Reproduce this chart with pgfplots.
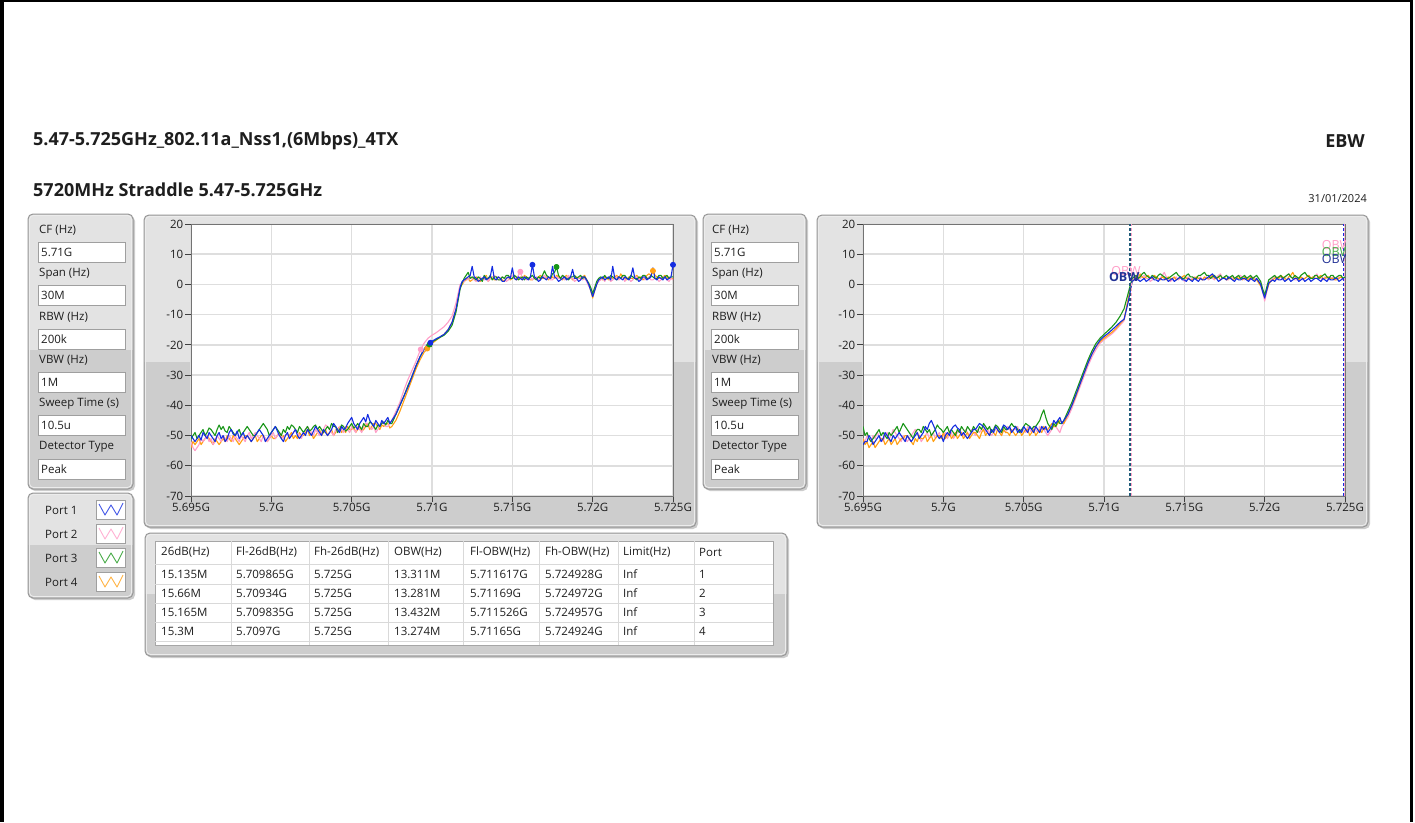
\documentclass[border=0pt]{standalone}
\usepackage{fontspec}
\setmainfont{Open Sans}
\usepackage{pgfplots}
\pgfplotsset{compat=1.18}
\usepackage{pgfplotstable}

\definecolor{pblue}{RGB}{20,45,225}
\definecolor{ppink}{RGB}{255,158,200}
\definecolor{pgreen}{RGB}{25,150,25}
\definecolor{porange}{RGB}{255,160,20}
\definecolor{pnavy}{RGB}{35,50,150}
\definecolor{pteal}{RGB}{30,90,120}
\definecolor{panlight}{RGB}{227,227,227}
\definecolor{pandark}{RGB}{205,205,205}
\definecolor{panedge}{RGB}{150,150,150}
\definecolor{gridc}{RGB}{222,222,222}
\definecolor{txt}{RGB}{30,30,30}

\newcommand\sm{\fontsize{11.5}{13}\selectfont}

% x = MHz above 5.695 GHz ; a = Port 1, b = Port 2, c = Port 3, d = Port 4
\pgfplotstableread{
x a b c d
0.000 -50 -52 -51 -54
0.125 -51 -54 -50 -52
0.250 -52 -55 -49 -53
0.375 -51 -54 -51 -52
0.500 -50 -53 -50 -51
0.625 -51.5 -51 -49 -53
0.750 -49 -52 -48 -52
0.875 -50 -51 -50 -51
1.000 -51 -50 -49 -50
1.125 -49 -52 -47.5 -51
1.250 -50 -51 -48 -52
1.375 -51 -53 -49 -53
1.500 -52 -52 -50 -51
1.625 -50 -50 -48 -52
1.750 -49 -51 -46.5 -53
1.875 -51 -52 -48 -52
2.000 -50 -50 -47 -51
2.125 -52 -51 -48.5 -52
2.250 -51 -52 -49 -50
2.375 -49 -50 -47 -51
2.500 -48 -51 -48 -52
2.625 -49.5 -52 -49 -50
2.750 -50 -50 -50 -51
2.875 -48.5 -51 -49 -52
3.000 -51 -52 -48 -53
3.125 -50 -50 -50 -52
3.250 -49 -51 -49 -51
3.375 -51 -52 -48 -50
3.500 -50 -50 -47 -50
3.625 -51 -49 -48 -51
3.750 -52 -51 -49 -52
3.875 -51 -50 -50 -51
4.000 -50 -49 -50 -50
4.125 -49 -50 -49 -52
4.250 -48 -51 -48 -51
4.375 -49 -52 -47 -50
4.500 -50 -50 -46 -50
4.625 -52 -51 -47 -51
4.750 -51 -52 -48 -52
4.875 -50 -51 -50 -51
5.000 -49 -50 -49 -50
5.125 -48 -49 -48 -51
5.250 -47 -51 -47 -51
5.375 -48.5 -50 -48 -50
5.500 -50 -49 -49 -49
5.625 -51 -50 -50 -51
5.750 -52 -51 -48 -50
5.875 -50 -50 -49 -52
6.000 -49 -49 -47 -51
6.125 -51 -51 -48 -50
6.250 -50 -50 -46.5 -49
6.375 -49 -49 -47 -51
6.500 -48 -48 -48 -50
6.625 -50 -49 -49 -51
6.750 -51 -50 -47 -49
6.875 -50 -51 -48 -50
7.000 -49 -49 -49 -50
7.125 -50 -48 -48 -49
7.250 -48 -47 -47 -48
7.375 -49 -48 -48.5 -50
7.500 -50 -49 -48 -49
7.625 -48.5 -50 -47 -51
7.750 -47 -48 -46.5 -50
7.875 -48 -49 -48 -49
8.000 -49 -50 -47 -48
8.125 -50 -49 -48 -50
8.250 -48 -48 -49 -49
8.375 -49 -46.5 -48 -48
8.500 -50 -47 -47 -50
8.625 -49 -48 -48 -49
8.750 -48 -49 -46 -48
8.875 -46 -50 -47 -50
9.000 -47 -48 -47 -49
9.125 -48 -49 -49 -48
9.250 -49 -47 -48 -47
9.375 -47 -48 -46.5 -49
9.500 -48 -49 -47 -48
9.625 -47.5 -47 -48.5 -49
9.750 -46 -48 -48 -47
9.875 -45 -49 -47 -48
10.000 -44 -47 -46 -48
10.125 -46 -48 -47.5 -47
10.250 -47 -49 -47 -49
10.375 -48 -47 -46 -48
10.500 -46 -48 -47 -47
10.625 -45 -49 -48 -48.5
10.750 -44 -47 -46 -48
10.875 -45.5 -46 -47 -47
11.000 -43 -46 -47 -46
11.125 -45 -47 -45.5 -48
11.250 -46 -48 -46 -47
11.375 -47 -47 -47 -46
11.500 -45 -49 -48 -46
11.625 -46 -48 -46.5 -47
11.750 -47 -47 -47 -48
11.875 -45 -46 -46 -46.5
12.000 -46 -46 -45.5 -47
12.125 -45 -47 -46.5 -46
12.250 -44 -47 -45 -46
12.375 -46 -46 -46 -47.5
12.500 -45 -45 -46 -47
12.750 -43 -42 -43 -45
13.000 -40 -39 -40 -42
13.250 -37 -35 -37 -38.5
13.500 -34 -31.5 -33.5 -35
13.750 -30.5 -28.5 -30.5 -31.5
14.000 -27 -25.5 -27 -28
14.250 -24 -22 -24 -25
14.500 -21.5 -19.5 -21.5 -22.5
14.750 -19.5 -17.8 -19.8 -21
15.000 -18.8 -16.8 -19 -19.5
15.250 -18 -16 -18.3 -18.5
15.500 -17.3 -15 -17.5 -17.5
15.750 -16.5 -14 -16.8 -16.5
16.000 -15 -12.5 -15.5 -15
16.250 -12.5 -10.5 -13.5 -12.5
16.500 -8 -6 -9 -8
16.750 -1 0 -1.5 -1
16.875 1 0.5 0.5 0
17.000 1.5 1 2 1
17.125 2 2 3 1.5
17.250 2.5 1.5 4 2
17.375 3 2.5 2 1
17.500 6 2 2.5 1.5
17.625 2.5 1.5 2 2
17.750 2 1 1.5 2.5
17.875 1 2 2.5 1.5
18.000 1.5 2.5 2 1
18.125 2 1.5 1 2
18.250 2.5 1.5 3 2
18.375 1.5 2.5 2 3
18.500 2 1 2 1
18.625 2.5 2 3 2
18.750 6 2 1.5 2.5
18.875 2 3 2.5 1.5
19.000 1.5 2.5 2.5 1.5
19.125 2.5 1.5 1.5 2.5
19.250 2 1.5 1.5 2
19.375 1 2.5 2.5 1.5
19.500 1 2 2 1
19.625 2 1 3 2
19.750 2.5 1.5 3 2.5
19.875 2 2.5 2 1.5
20.000 5.5 3 2 2
20.125 2 2 3 2.5
20.250 1.5 2 2.5 1.5
20.375 2.5 3 1.5 2
20.500 2 4.2 2 2.5
20.625 1.5 2 2.5 1.5
20.750 2.5 2.5 1.5 3
20.875 2 1.5 2.5 2.5
21.000 1.5 2 2 2
21.125 2.5 2.5 2.5 1.5
21.250 6.5 1.5 3 1.5
21.375 2.5 2 2 2.5
21.500 2 2.5 1.5 2
21.625 1 1.5 2.5 2.5
21.750 1.5 2 2 3
21.875 2.5 2.5 3 2
22.000 2 3 4.5 2
22.125 1.5 2 3 2.5
22.250 2.5 2 2.5 1.5
22.375 2 1.5 2 2
22.500 6 1.5 3.5 2.5
22.625 2.5 2.5 4 2
22.750 2 2.5 5.8 3
22.875 1 2 3 2.5
23.000 1.5 2 2 2
23.125 2 3 3 1.5
23.250 2.5 1.5 2.5 2.5
23.375 1.5 2 2 3
23.500 2 3 1.5 2
23.625 2.5 2 2.5 2.5
23.750 5 2 2.5 1.5
23.875 2 1 3 2
24.000 2 1.5 2 2.5
24.125 1 2 2.5 2
24.250 1.5 2.5 3 2
24.375 2.5 1.5 2 2.5
24.500 2.5 2 2.5 3
24.625 1.5 1 1.5 1.5
24.750 0 -0.5 0.5 0
24.875 -2 -1.5 -1 -2
25.000 -4 -3 -3 -4.5
25.125 -2 -1 -1 -2
25.250 0 0.5 1 0
25.375 1.5 1 2 1.5
25.500 2 1.5 2.5 2
25.625 2.5 2 2 1.5
25.750 1.5 1 3 2.5
25.875 2 2.5 2 2
26.000 2.5 2 2 1.5
26.125 1.5 1 3 2.5
26.250 6 1.5 2.5 2
26.375 2 2 2 2.5
26.500 1.5 2.5 1.5 3
26.625 2.5 1.5 2.5 2
26.750 2 2 2 3.5
26.875 1.5 2.5 3 2.5
27.000 2.5 1 3 2
27.125 2 2 2 1.5
27.250 1.5 2 2 2.5
27.375 2.5 1 3 2
27.500 5.5 1.5 2.5 2
27.625 2 2.5 2 2.5
27.750 2 2.5 1.5 3
27.875 1 1.5 2.5 2
28.000 1.5 2 2 2.5
28.125 2.5 2.5 3 1.5
28.250 2.5 1.5 3 2
28.375 1.5 2 2 3
28.500 2 2.5 2 3.5
28.625 2.5 1.5 3 3
28.750 5.5 1.5 2.5 4.5
28.875 2 2 2 3
29.000 1.5 2 2 2.5
29.125 2.5 1 3 2
29.250 2 1.5 3 2
29.375 1.5 2.5 2 2.5
29.500 2.5 2.5 2.5 3
29.625 1.5 1.5 3 2
29.750 2 1 2 2.5
29.875 2.5 2 2.5 2
30.000 6.5 1.5 2.5 2
}\chartA

\pgfplotstableread{
x a b c d
0.000 -53 -51 -47 -51
0.125 -52 -52 -50 -53
0.250 -52 -50 -49 -52
0.375 -50 -51 -51 -54
0.500 -51 -52 -52 -53
0.625 -53 -50 -51 -52
0.750 -52 -51 -50 -54
0.875 -51 -49 -49 -53
1.000 -50 -50 -48 -52
1.125 -52 -51 -50 -51
1.250 -51 -52 -49 -51
1.375 -49 -50 -50 -53
1.500 -50 -49 -51 -52
1.625 -51 -51 -49 -51
1.750 -52 -50 -50 -53
1.875 -50 -48 -49 -52
2.000 -51 -49 -48 -51
2.125 -50 -50 -47 -53
2.250 -49 -51 -49 -52
2.375 -50 -52 -47.5 -51
2.500 -51 -50 -46 -51
2.625 -52 -51 -47 -50
2.750 -50 -52 -48 -50
2.875 -51 -51 -49 -51
3.000 -52 -50 -50 -52
3.125 -51 -49 -51 -53
3.250 -50 -48 -49 -51
3.375 -49 -49 -48 -52
3.500 -51 -50 -48 -50
3.625 -50 -52 -49 -51
3.750 -49 -51 -47 -51
3.875 -47 -50 -48 -50
4.000 -48 -49 -49 -52
4.125 -46 -51 -48 -51
4.250 -45 -50 -50 -50
4.375 -46.5 -49 -49 -52
4.500 -48 -51 -48 -51
4.625 -50 -50 -46.5 -50
4.750 -51 -49 -47.5 -50
4.875 -50 -51 -48 -51
5.000 -52 -50 -49 -49
5.125 -50 -49 -48 -51
5.250 -49 -51 -47 -50
5.375 -50 -50 -49 -49
5.500 -48 -49 -48 -51
5.625 -47 -51 -49 -50
5.750 -46.5 -50 -50 -49
5.875 -47.5 -49 -48 -51
6.000 -48 -48 -49 -50
6.125 -50 -49 -47 -49
6.250 -49 -50 -48 -51
6.375 -50 -48 -49 -50
6.500 -51 -49 -47 -49
6.625 -50 -50 -48 -51
6.750 -49 -48 -49 -50
6.875 -48 -49 -47 -49
7.000 -48 -50 -48 -49
7.125 -47 -48 -49 -50
7.250 -46 -49 -47 -51
7.375 -46.5 -48 -48 -49
7.500 -47 -47 -46 -48
7.625 -48 -49 -47 -50
7.750 -49 -48 -48 -49
7.875 -50 -49 -47 -50
8.000 -48 -50 -49 -48
8.125 -49 -49 -48 -49
8.250 -47 -48 -46.5 -50
8.375 -48 -47 -47 -48
8.500 -49 -49 -48 -49
8.625 -48 -50 -49 -50
8.750 -46.5 -48 -47 -48
8.875 -47 -49 -48 -49
9.000 -48 -47 -48 -49
9.125 -47 -48 -47 -50
9.250 -49 -49 -46 -48
9.375 -48 -48 -47 -49
9.500 -47 -48 -47 -50
9.625 -49 -47 -48 -49
9.750 -48 -49 -49 -48
9.875 -49 -48 -48 -50
10.000 -47 -48 -47 -49
10.125 -48 -49 -46 -48
10.250 -49 -47 -46.5 -48
10.375 -47 -48 -47 -50
10.500 -48 -49 -48 -49
10.625 -49 -47 -47 -48
10.750 -47 -48 -47 -50
10.875 -48 -49 -46 -49
11.000 -49 -47 -45 -48
11.125 -47 -48 -43 -49
11.250 -48 -48 -41.5 -47
11.375 -47 -49 -44 -48
11.500 -49 -50 -46 -48
11.625 -48 -49 -47 -47
11.750 -47 -48 -48 -46
11.875 -45 -47 -46 -47
12.000 -46 -47 -47 -47
12.125 -45 -48 -45 -46
12.250 -44 -49 -46 -45
12.375 -46 -47 -46 -45.5
12.500 -45 -46 -45 -46
12.750 -43 -44 -42 -43
13.000 -40 -41 -39 -40
13.250 -36.5 -37.5 -35.5 -37
13.500 -33 -34 -32 -33
13.750 -29.5 -30.5 -28.5 -29.5
14.000 -26 -27 -25 -26
14.250 -23 -24 -22 -23
14.500 -20.5 -21.5 -19.5 -20.5
14.750 -18.5 -19.5 -17.8 -19
15.000 -17.2 -18.3 -16.5 -17.8
15.250 -16.2 -17.3 -15.3 -16.8
15.500 -15 -16.3 -14 -15.8
15.750 -13.8 -15 -12.5 -14.5
16.000 -12.5 -13.5 -10.5 -13
16.250 -11.5 -12 -8 -11.5
16.500 -6 -5 -3 -5
16.750 1 1.5 2 1
16.875 1.5 2 2.5 1.5
17.000 2 2.5 3 2.5
17.125 1.5 1.5 2 2
17.250 1 2 2.5 3.5
17.375 1.5 2.5 3.5 2.5
17.500 2 3 4 2
17.625 1 2 3 2.5
17.750 1.5 2 2.5 3
17.875 2 1 2 2
18.000 2.5 1.5 3 2
18.125 1.5 2 2.5 3
18.250 1.5 2.5 2 2.5
18.375 1 1.5 3 2
18.500 2 2 3.5 1.5
18.625 1.5 3 3 2.5
18.750 1.5 4 2.5 2
18.875 2 2.5 2 1.5
19.000 1 2 2 2.5
19.125 1.5 1 2.5 2
19.250 2 1.5 3 2
19.375 1 2 3.5 2.5
19.500 1.5 2.5 4 1.5
19.625 2 1.5 3 2
19.750 2.5 2 2.5 2
19.875 1.5 2.5 2 2.5
20.000 1.5 1 2 3
20.125 1 2 3 2
20.250 2 2.5 3.5 2
20.375 1.5 1.5 2.5 1.5
20.500 1 2 2.5 1.5
20.625 2 2.5 2 2
20.750 1.5 1.5 2 2.5
20.875 1 2 3 2
21.000 2 2.5 3 2
21.125 1.5 1.5 3.5 1.5
21.250 1.5 2 4 2.5
21.375 2 2.5 3 2
21.500 2.5 1.5 3 2
21.625 3 2 2 2.5
21.750 3.5 2 2.5 3
21.875 2.5 1.5 3 2
22.000 2 2.5 2 2
22.125 1 3 2.5 2.5
22.250 1.5 3.5 3 1.5
22.375 2 2 2 2
22.500 2 2 2.5 2.5
22.625 1.5 1.5 3 1.5
22.750 2.5 1.5 2 2
22.875 2 2.5 2.5 2.5
23.000 1.5 2.5 3 1.5
23.125 1 1.5 2 2
23.250 2 2 2.5 2.5
23.375 1.5 3 3 2
23.500 1.5 3 2 2
23.625 2 2 2.5 1.5
23.750 2 1.5 3 2.5
23.875 1.5 2.5 2 2
24.000 1 2 2.5 1.5
24.125 2 1.5 3 2.5
24.250 1.5 2.5 2 2
24.375 1 2 2.5 1.5
24.500 2 2 3 1.5
24.625 1 1 2 0.5
24.750 0 0.5 1 -0.5
24.875 -2.5 -2.5 -1.5 -2
25.000 -4.5 -5.5 -3.5 -4
25.125 -2 -2.5 -1 -2
25.250 0.5 0 1.5 0
25.375 1 1.5 2 1
25.500 1.5 2 2.5 1.5
25.625 1 2.5 3 2
25.750 2 1.5 2 2.5
25.875 1.5 2 2.5 2
26.000 1.5 2.5 3 3
26.125 2 1.5 2 2.5
26.250 1 2 2.5 2
26.375 1.5 3 3 1.5
26.500 2 3.5 3.5 2.5
26.625 1 2.5 2.5 3
26.750 1.5 2 2 4
26.875 2 1.5 3 2.5
27.000 2 1.5 2.5 2
27.125 1 2 2 1.5
27.250 1.5 2.5 3 2.5
27.375 2 1.5 3.5 2
27.500 1 2 4 2
27.625 1.5 2.5 3 2.5
27.750 2 3 2.5 3
27.875 1 2 2 2
28.000 1.5 2 2 2.5
28.125 2 2.5 3 2
28.250 2 3.5 3 2
28.375 1.5 2 2 2.5
28.500 1 2 2.5 3
28.625 2 1.5 3 2
28.750 1.5 2.5 3.5 2
28.875 1 2 2.5 2.5
29.000 2 1.5 2 2.5
29.125 1.5 2 3 2
29.250 1.5 2.5 3 2
29.375 2 1.5 2 1.5
29.500 2 2 2.5 1.5
29.625 1 2.5 3 2
29.750 1.5 2.5 3 2.5
29.875 2 1.5 2 2
30.000 2 1.5 2.5 2
}\chartB

\pgfplotsset{lvstyle/.style={
  scale only axis, width=482pt, height=272pt, anchor=north west,
  xmin=0, xmax=30, ymin=-70, ymax=20,
  xtick={0,5,...,30},
  xticklabels={5.695G,5.7G,5.705G,5.71G,5.715G,5.72G,5.725G},
  ytick={-70,-60,...,20},
  yticklabels={-70,-60,-50,-40,-30,-20,-10,0,10,20},
  tick align=outside, tick pos=left, major tick length=6pt,
  tick style={black!75, line width=0.8pt},
  grid=major, major grid style={gridc, line width=1.5pt},
  axis line style={black!55, line width=1pt},
  axis background/.style={fill=white},
  ticklabel style={font=\sm, text=txt},
  xticklabel style={inner sep=1pt},
  yticklabel style={inner sep=1.5pt},
  every axis plot/.append style={line width=1.1pt, line join=round},
}}

\newcommand{\panel}[5]{%
  \fill[gray!40, rounded corners=5pt] (#1+2,#2+2) rectangle (#3+2,#4+2);
  \begin{scope}
    \clip[rounded corners=5pt] (#1,#2) rectangle (#3,#4);
    \fill[panlight] (#1,#2) rectangle (#3,#5);
    \fill[pandark] (#1,#5) rectangle (#3,#4);
  \end{scope}
  \draw[panedge, line width=1pt, rounded corners=5pt] (#1,#2) rectangle (#3,#4);
  \draw[white!85!gray, line width=0.8pt, rounded corners=4pt] (#1+1.5,#2+1.5) rectangle (#3-1.5,#4-1.5);
}

\newcommand{\params}[1]{%
  \foreach \lab/\val [count=\i from 0] in {CF (Hz)/5.71G, Span (Hz)/30M, RBW (Hz)/200k, VBW (Hz)/1M, Sweep Time (s)/10.5u, Detector Type/Peak} {
    \node[anchor=west, inner sep=0pt, text=txt, font=\sm] at (#1+39, 230+43.4*\i) {\lab};
    \draw[gray!75, fill=white] (#1+38, 242+43.4*\i) rectangle (#1+125, 262+43.4*\i);
    \node[anchor=west, inner sep=0pt, text=txt, font=\sm] at (#1+41, 252+43.4*\i) {\val};
  }%
}

\begin{document}
\begin{tikzpicture}
\begin{scope}[x=1pt, y=-1pt]
  \useasboundingbox (0,0) rectangle (1415,822);
  \fill[white] (0,0) rectangle (1415,822);
  % window borders
  \fill[black] (0,0) rectangle (4,822);
  \fill[black] (0,0) rectangle (1413,2);
  \fill[black] (1410,0) rectangle (1413,822);

  % titles
  \node[anchor=west, inner sep=0pt, text=txt, font=\fontsize{18}{21}\selectfont\bfseries] at (33,141) {5.47-5.725GHz\_802.11a\_Nss1,(6Mbps)\_4TX};
  \node[anchor=east, inner sep=0pt, text=txt, font=\fontsize{18}{21}\selectfont\bfseries] at (1365,141) {EBW};
  \node[anchor=west, inner sep=0pt, text=txt, font=\fontsize{18}{21}\selectfont\bfseries] at (33,190) {5720MHz Straddle 5.47-5.725GHz};
  \node[anchor=east, inner sep=0pt, text=txt, font=\fontsize{11}{13}\selectfont] at (1367,199) {31/01/2024};

  % panels
  \panel{28}{214}{133}{489}{350}
  \panel{703}{214}{806}{489}{350}
  \panel{144}{215}{696}{527}{362}
  \panel{817}{215}{1368}{527}{362}
  \panel{28}{493}{133}{598}{545}
  \panel{145}{533}{787}{656}{594}

  \params{0}
  \params{673}

  % legend
  \foreach \col [count=\i from 0] in {pblue,ppink,pgreen,porange} {
    \node[anchor=west, inner sep=0pt, text=txt, font=\sm] at (45, 510+24*\i) {Port \the\numexpr\i+1\relax};
    \draw[gray!75, fill=white] (96, 500+24*\i) rectangle (125, 519+24*\i);
    \draw[\col!80!white, line width=0.9pt, line join=round] (99, 504+24*\i) -- (105, 515+24*\i) -- (111, 505+24*\i) -- (117, 515+24*\i) -- (123, 503+24*\i);
  }

  % table
  \draw[gray!70, fill=white] (155,541) rectangle (773,645);
  \foreach \yy in {564,584,603,622,641} { \draw[gray!30, line width=0.8pt] (155,\yy) -- (773,\yy); }
  \foreach \xx in {231,309,388,463,539,618,694.5} { \draw[gray!30, line width=0.8pt] (\xx,541) -- (\xx,645); }
  \foreach \xx/\t in {161/26dB(Hz), 236/Fl-26dB(Hz), 314/Fh-26dB(Hz), 394/OBW(Hz), 470/Fl-OBW(Hz), 545/Fh-OBW(Hz), 623/Limit(Hz), 699/Port} {
    \node[anchor=west, inner sep=0pt, text=txt, font=\sm] at (\xx,552) {\t};
  }
  \foreach \yy/\ca/\cb/\cc/\cd/\ce/\cf/\cg in {
      574/15.135M/5.709865G/5.725G/13.311M/5.711617G/5.724928G/1,
      593/15.66M/5.70934G/5.725G/13.281M/5.71169G/5.724972G/2,
      612/15.165M/5.709835G/5.725G/13.432M/5.711526G/5.724957G/3,
      631/15.3M/5.7097G/5.725G/13.274M/5.71165G/5.724924G/4} {
    \node[anchor=west, inner sep=0pt, text=txt, font=\sm] at (161,\yy) {\ca};
    \node[anchor=west, inner sep=0pt, text=txt, font=\sm] at (236,\yy) {\cb};
    \node[anchor=west, inner sep=0pt, text=txt, font=\sm] at (314,\yy) {\cc};
    \node[anchor=west, inner sep=0pt, text=txt, font=\sm] at (394,\yy) {\cd};
    \node[anchor=west, inner sep=0pt, text=txt, font=\sm] at (470,\yy) {\ce};
    \node[anchor=west, inner sep=0pt, text=txt, font=\sm] at (545,\yy) {\cf};
    \node[anchor=west, inner sep=0pt, text=txt, font=\sm] at (623,\yy) {Inf};
    \node[anchor=west, inner sep=0pt, text=txt, font=\sm] at (699,\yy) {\cg};
  }
\end{scope}

% left chart
\begin{axis}[lvstyle, at={(191pt,-224pt)}]
  \addplot[porange] table[x=x, y=d] {\chartA};
  \addplot[ppink] table[x=x, y=b] {\chartA};
  \addplot[pgreen] table[x=x, y=c] {\chartA};
  \addplot[pblue] table[x=x, y=a] {\chartA};
  \addplot[only marks, mark=*, mark size=2.4pt, ppink] coordinates {(20.5,4.2) (14.3,-21.5)};
  \addplot[only marks, mark=*, mark size=2.4pt, porange] coordinates {(28.75,4.5) (14.7,-21.2)};
  \addplot[only marks, mark=*, mark size=2.4pt, pgreen] coordinates {(22.75,5.8) (14.85,-19.9)};
  \addplot[only marks, mark=*, mark size=2.4pt, pblue] coordinates {(21.25,6.5) (30,6.5) (14.9,-19.3)};
\end{axis}

% right chart
\begin{axis}[lvstyle, at={(863pt,-224pt)}]
  \addplot[ppink] table[x=x, y=b] {\chartB};
  \addplot[porange] table[x=x, y=d] {\chartB};
  \addplot[pgreen] table[x=x, y=c] {\chartB};
  \addplot[pblue] table[x=x, y=a] {\chartB};
  \addplot[ppink, line width=0.8pt, dash pattern=on 3pt off 2pt] coordinates {(16.72,-70) (16.72,20)};
  \addplot[pteal, line width=1.6pt, dash pattern=on 3pt off 2pt] coordinates {(16.62,-70) (16.62,20)};
  \addplot[ppink, line width=0.8pt, dash pattern=on 3pt off 2pt] coordinates {(29.97,-70) (29.97,20)};
  \addplot[pblue, line width=0.8pt, dash pattern=on 3pt off 2pt] coordinates {(29.9,-70) (29.9,20)};
  \node[anchor=west, inner sep=0pt, text=ppink, font=\fontsize{12.5}{14}\selectfont] at (axis cs:15.45,4.4) {OBW};
  \node[anchor=west, inner sep=0pt, text=pnavy, font=\fontsize{12.5}{14}\selectfont\bfseries] at (axis cs:15.3,2.5) {OBW};
  \node[anchor=west, inner sep=0pt, text=ppink, font=\fontsize{12.5}{14}\selectfont] at (axis cs:28.55,13.2) {OBW};
  \node[anchor=west, inner sep=0pt, text=pgreen!80!white, font=\fontsize{12.5}{14}\selectfont] at (axis cs:28.55,10.8) {OBW};
  \node[anchor=west, inner sep=0pt, text=pnavy, font=\fontsize{12.5}{14}\selectfont] at (axis cs:28.55,8.3) {OBW};
\end{axis}
\end{tikzpicture}
\end{document}
